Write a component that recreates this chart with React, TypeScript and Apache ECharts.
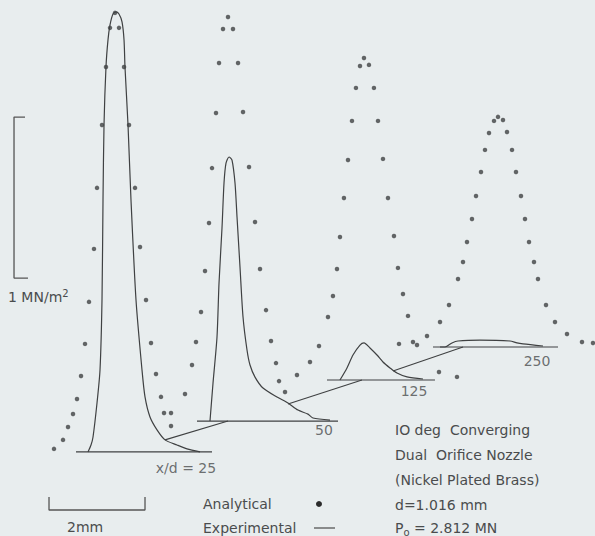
import React, { useEffect, useRef } from "react";
import * as echarts from "echarts";

// Frame: horizontal axis in mm, vertical axis in MN/m^2
const X_RANGE = [0, 12.396];
const Y_RANGE = [0, 3.329];

// Profile origins (baseline centre) in the perspective frame [mm, MN/m^2]
const ORIGIN_25: [number, number] = [2.396, 0.522];
const ORIGIN_50: [number, number] = [4.771, 0.714];
const ORIGIN_125: [number, number] = [7.583, 0.969];
const ORIGIN_250: [number, number] = [10.375, 1.174];

// Analytical points [radial mm, pressure MN/m^2]
const ANALYTICAL_25: [number, number][] = [
  [0, 2.727], [-0.104, 2.634], [0.083, 2.634], [-0.188, 2.391], [0.188, 2.391],
  [-0.271, 2.031], [0.292, 2.031], [-0.375, 1.64], [0.417, 1.64], [-0.438, 1.261],
  [0.521, 1.273], [-0.542, 0.932], [0.646, 0.944], [-0.625, 0.671], [0.75, 0.677],
  [-0.708, 0.472], [0.854, 0.484], [-0.792, 0.329], [0.958, 0.342], [-0.875, 0.236],
  [1.021, 0.242], [-0.979, 0.155], [1.167, 0.161], [-1.083, 0.075], [-1.271, 0.019],
];
const ANALYTICAL_50: [number, number][] = [
  [-0.021, 2.509], [-0.125, 2.435], [0.083, 2.435], [-0.208, 2.224], [0.188, 2.224],
  [-0.271, 1.913], [0.292, 1.919], [-0.354, 1.571], [0.417, 1.578], [-0.417, 1.23],
  [0.542, 1.236], [-0.5, 0.932], [0.646, 0.944], [-0.583, 0.677], [0.771, 0.689],
  [-0.688, 0.491], [0.875, 0.497], [-0.771, 0.348], [0.979, 0.36], [-0.917, 0.168],
  [1.042, 0.248], [-1.208, 0.05], [1.167, 0.18],
];
const ANALYTICAL_125: [number, number][] = [
  [0, 2.0], [-0.083, 1.95], [0.104, 1.957], [-0.167, 1.814], [0.208, 1.814],
  [-0.25, 1.609], [0.292, 1.609], [-0.333, 1.366], [0.396, 1.373], [-0.417, 1.13],
  [0.5, 1.13], [-0.5, 0.888], [0.625, 0.894], [-0.5625, 0.689], [0.708, 0.696],
  [-0.646, 0.522], [0.8125, 0.534], [-0.75, 0.391], [0.917, 0.398], [-0.9375, 0.211],
  [1.021, 0.236], [-1.125, 0.112], [1.5625, 0.05], [-1.396, 0.031], [1.9375, 0.019],
];
const ANALYTICAL_250: [number, number][] = [
  [0, 1.429], [-0.083, 1.404], [0.104, 1.41], [-0.1875, 1.329], [0.1875, 1.335],
  [-0.271, 1.224], [0.292, 1.224], [-0.354, 1.087], [0.375, 1.087], [-0.458, 0.938],
  [0.479, 0.938], [-0.542, 0.795], [0.5625, 0.795], [-0.646, 0.652], [0.646, 0.652],
  [-0.729, 0.528], [0.75, 0.528], [-0.833, 0.422], [0.833, 0.422], [-1.021, 0.261],
  [1.0, 0.261], [-1.208, 0.155], [1.1875, 0.155], [-1.479, 0.068], [1.4375, 0.081],
  [-1.6875, 0.012], [1.75, 0.031], [-2.0625, 0.019], [1.979, 0.025],
];

// Experimental traces [radial mm, pressure MN/m^2]
const EXPERIMENTAL_25: [number, number][] = [
  [-0.5625, 0], [-0.5, 0.043], [-0.458, 0.093], [-0.375, 0.304], [-0.3125, 0.509],
  [-0.271, 0.944], [-0.25, 1.565], [-0.229, 2.031], [-0.188, 2.391], [-0.146, 2.559],
  [-0.104, 2.652], [-0.042, 2.72], [0.021, 2.733], [0.083, 2.72], [0.146, 2.671],
  [0.188, 2.559], [0.208, 2.391], [0.271, 2.031], [0.333, 1.565], [0.4375, 0.944],
  [0.5625, 0.509], [0.625, 0.342], [0.729, 0.217], [0.875, 0.137], [1.042, 0.075],
  [1.292, 0.043], [1.5, 0.019], [1.771, 0],
];
const EXPERIMENTAL_50: [number, number][] = [
  [-0.396, 0], [-0.333, 0.236], [-0.25, 0.522], [-0.208, 0.857], [-0.146, 1.199],
  [-0.104, 1.478], [-0.0625, 1.602], [0, 1.64], [0.0625, 1.621], [0.125, 1.478],
  [0.167, 1.267], [0.229, 0.957], [0.292, 0.646], [0.375, 0.441], [0.4375, 0.348],
  [0.542, 0.273], [0.708, 0.205], [1.0, 0.149], [1.229, 0.112], [1.438, 0.068],
  [1.646, 0.043], [1.75, 0.019], [2.104, 0.006],
];
const EXPERIMENTAL_125: [number, number][] = [
  [-0.5, 0], [-0.354, 0.075], [-0.229, 0.155], [-0.083, 0.217], [0, 0.23],
  [0.125, 0.199], [0.271, 0.155], [0.396, 0.112], [0.542, 0.075], [0.6875, 0.043],
  [0.896, 0.019], [1.229, 0.006],
];
const EXPERIMENTAL_250: [number, number][] = [
  [-1.208, 0], [-1.104, 0], [-0.958, 0.025], [-0.833, 0.037], [-0.375, 0.043],
  [0.25, 0.037], [0.396, 0.025], [0.521, 0.019], [0.9375, 0.006],
];

// Baseline extents [left r, right r]
const BASELINE_25 = [-0.8125, 2.021];
const BASELINE_50 = [-0.667, 2.271];
const BASELINE_125 = [-0.771, 1.479];
const BASELINE_250 = [-1.354, 1.25];

// Profile labels and their offsets from the origin
const LABELS = ["x/d = 25", "50", "125", "250"];
const LABEL_OFFSETS: [number, number][] = [
  [1.479, -0.099], [1.979, -0.056], [1.042, -0.068], [0.8125, -0.087],
];

// Links between consecutive profiles: [from (rel. to earlier), to (rel. to later)]
const LINK_FROM: [number, number][] = [[1.042, 0.075], [1.229, 0.106], [0.604, 0.056]];
const LINK_TO: [number, number][] = [[-0.021, 0], [-0.042, 0], [-0.729, 0]];

// Scale bars
const PRESSURE_BAR = { x: 0.292, y0: 1.602, length: 1, tickTop: 0.521, tickBottom: 0.583 };
const LENGTH_BAR = { x0: 1.021, length: 2, y: 0.1615, tickTo: 0.242 };

const NOTES = [
  "IO deg  Converging",
  "Dual  Orifice Nozzle",
  "(Nickel Plated Brass)",
  "d=1.016 mm",
];

const INK = "#3f4142";
const TEXT = "#4a4c4d";
const FONT = "DejaVu Sans";

export default function App() {
  const ref = useRef<HTMLDivElement>(null);
  useEffect(() => {
    if (!ref.current) return;
    const chart = echarts.init(ref.current, undefined, { renderer: "svg" });
    const origins = [ORIGIN_25, ORIGIN_50, ORIGIN_125, ORIGIN_250];
    const analytical = [ANALYTICAL_25, ANALYTICAL_50, ANALYTICAL_125, ANALYTICAL_250];
    const experimental = [EXPERIMENTAL_25, EXPERIMENTAL_50, EXPERIMENTAL_125, EXPERIMENTAL_250];
    const baselines = [BASELINE_25, BASELINE_50, BASELINE_125, BASELINE_250];
    const shift = (pts: [number, number][], o: [number, number]) =>
      pts.map(([r, p]) => [r + o[0], p + o[1]]);

    const lineStyle = { color: INK, width: 1.2 };
    const series: any[] = [];
    origins.forEach((o, i) => {
      series.push({
        type: "line",
        data: shift(experimental[i], o),
        symbol: "none",
        smooth: 0.25,
        lineStyle,
        silent: true,
        z: 2,
      });
      series.push({
        type: "line",
        data: [[baselines[i][0] + o[0], o[1]], [baselines[i][1] + o[0], o[1]]],
        symbol: "none",
        lineStyle,
        silent: true,
        z: 2,
      });
      series.push({
        type: "scatter",
        data: shift(analytical[i], o),
        symbol: "circle",
        symbolSize: 4.5,
        itemStyle: { color: INK },
        silent: true,
        z: 3,
      });
      series.push({
        type: "scatter",
        data: [[LABEL_OFFSETS[i][0] + o[0], LABEL_OFFSETS[i][1] + o[1]]],
        symbolSize: 0,
        label: {
          show: true,
          position: "inside",
          formatter: LABELS[i],
          color: TEXT,
          fontFamily: FONT,
          fontSize: 14,
        },
        silent: true,
      });
    });
    for (let i = 0; i < 3; i++) {
      const a = origins[i];
      const b = origins[i + 1];
      series.push({
        type: "line",
        data: [
          [LINK_FROM[i][0] + a[0], LINK_FROM[i][1] + a[1]],
          [LINK_TO[i][0] + b[0], LINK_TO[i][1] + b[1]],
        ],
        symbol: "none",
        lineStyle: { color: INK, width: 1.1 },
        silent: true,
      });
    }
    // pressure scale bar
    const pb = PRESSURE_BAR;
    series.push({
      type: "line",
      data: [
        [pb.tickTop, pb.y0 + pb.length],
        [pb.x, pb.y0 + pb.length],
        [pb.x, pb.y0],
        [pb.tickBottom, pb.y0],
      ],
      symbol: "none",
      lineStyle: { color: "#555", width: 1.3 },
      silent: true,
    });
    // length scale bar
    const lb = LENGTH_BAR;
    series.push({
      type: "line",
      data: [
        [lb.x0, lb.tickTo],
        [lb.x0, lb.y],
        [lb.x0 + lb.length, lb.y],
        [lb.x0 + lb.length, lb.tickTo],
      ],
      symbol: "none",
      lineStyle: { color: "#555", width: 1.3 },
      silent: true,
    });

    const textStyle = (text: string, x: number, y: number) => ({
      type: "text",
      x,
      y,
      style: {
        text,
        fill: TEXT,
        font: `14px "${FONT}"`,
        verticalAlign: "middle",
      },
      silent: true,
    });

    const richText = (text: string, x: number, y: number, subPad: number[]) => ({
      type: "text",
      x,
      y,
      style: {
        text,
        verticalAlign: "middle",
        rich: {
          a: { fill: TEXT, font: `14px "${FONT}"` },
          s: { fill: TEXT, font: `10px "${FONT}"`, padding: subPad },
        },
      },
      silent: true,
    });

    const graphic: any[] = [
      richText("{a|1 MN/m}{s|2}", 8, 297, [0, 0, 8, 0]),
      textStyle("2mm", 67, 527),
      textStyle("Analytical", 203, 504),
      textStyle("Experimental", 203, 528),
      { type: "circle", shape: { cx: 319, cy: 504, r: 3 }, style: { fill: "#2b2b2b" }, silent: true },
      { type: "line", shape: { x1: 314, y1: 528, x2: 335, y2: 528 }, style: { stroke: "#555", lineWidth: 1.3 }, silent: true },
      ...NOTES.map((t, i) => textStyle(t, 395, 430 + i * 25)),
      richText("{a|P}{s|o}{a| = 2.812 MN}", 395, 528, [8, 0, 0, 0]),
    ];

    chart.setOption({
      animation: false,
      backgroundColor: "#e8edee",
      grid: { left: 0, right: 0, top: 0, bottom: 0 },
      xAxis: { type: "value", min: X_RANGE[0], max: X_RANGE[1], show: false },
      yAxis: { type: "value", min: Y_RANGE[0], max: Y_RANGE[1], show: false },
      series,
      graphic,
    });
    return () => chart.dispose();
  }, []);
  return (
    <div
      ref={ref}
      style={{ position: "absolute", left: 0, top: 0, width: 595, height: 536 }}
    />
  );
}
